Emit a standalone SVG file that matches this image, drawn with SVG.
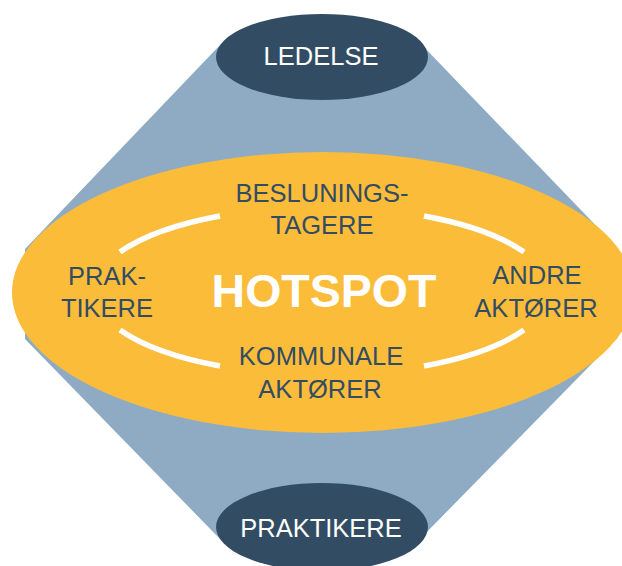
<svg xmlns="http://www.w3.org/2000/svg" width="622" height="566" viewBox="0 0 622 566">
<style>
.dk{fill:#324d63}
.lbl{font-family:"Liberation Sans",Arial,Helvetica,sans-serif;font-size:25.5px;text-anchor:middle}
.w{fill:#ffffff}
.d{fill:#324d63}
.ring{fill:none;stroke:#ffffff;stroke-width:5.5}
</style>
<rect width="622" height="566" fill="#ffffff"/>
<g id="background">
<polygon points="221,44 421,44 618,248.5 618,337 419,540 221,540 25,339 25,249" fill="#8fabc3"/>
</g>
<g id="hotspot">
<ellipse cx="323" cy="292.5" rx="311" ry="140.5" fill="#fbbc3a"/>
<text x="324" y="307" font-family="Liberation Sans,Arial,Helvetica,sans-serif" font-size="46.5" font-weight="bold" fill="#ffffff" text-anchor="middle">HOTSPOT</text>
</g>
<g id="connectors">
<path class="ring" d="M120,252 A228,84 0 0,1 220,216"/>
<path class="ring" d="M424,216 A228,84 0 0,1 524,252"/>
<path class="ring" d="M524,330 A228,84 0 0,1 424,366"/>
<path class="ring" d="M220,366 A228,84 0 0,1 120,330"/>
</g>
<g id="ledelse">
<ellipse cx="322" cy="57" rx="106" ry="43" class="dk"/>
<text x="321" y="65" class="lbl w">LEDELSE</text>
</g>
<g id="praktikere-bottom">
<ellipse cx="322" cy="527" rx="106" ry="44" class="dk"/>
<text x="321" y="537" class="lbl w">PRAKTIKERE</text>
</g>
<g id="beslutningstagere">
<text x="322" y="202" class="lbl d">BESLUNINGS-</text>
<text x="322" y="234" class="lbl d">TAGERE</text>
</g>
<g id="kommunale">
<text x="321" y="365" class="lbl d">KOMMUNALE</text>
<text x="320" y="398" class="lbl d">AKTØRER</text>
</g>
<g id="praktikere-left">
<text x="107" y="285" class="lbl d">PRAK-</text>
<text x="107" y="317" class="lbl d">TIKERE</text>
</g>
<g id="andre">
<text x="537" y="284" class="lbl d">ANDRE</text>
<text x="536" y="317" class="lbl d">AKTØRER</text>
</g>
</svg>
